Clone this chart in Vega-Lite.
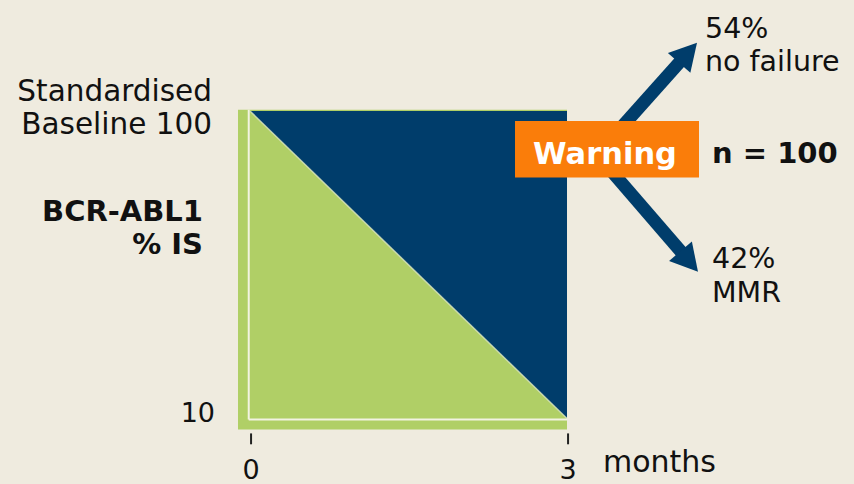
{
  "$schema": "https://vega.github.io/schema/vega-lite/v6.json",
  "width": 854,
  "height": 484,
  "autosize": {"type": "fit", "contains": "padding"},
  "padding": 0,
  "background": "#efebdf",
  "config": {"view": {"stroke": null}, "text": {"font": "DejaVu Sans", "color": "#111111", "baseline": "alphabetic"}},
  "encoding": {
    "x": {"field": "m", "type": "quantitative", "axis": null, "scale": {"domain": [-2.3659, 5.716], "nice": false, "zero": false}},
    "y": {"field": "v", "type": "quantitative", "axis": null, "stack": null, "scale": {"type": "log", "domain": [6.3096, 229.75], "nice": false}}
  },
  "layer": [
    {
      "data": {"values": [{"m": -0.1136, "v": 9.216, "m2": 3, "v2": 101}]},
      "mark": {"type": "rect", "color": "#b0cf66"},
      "encoding": {"x2": {"field": "m2"}, "y2": {"field": "v2"}}
    },
    {
      "data": {"values": [{"m": 0, "v": 100, "v2": 100}, {"m": 3, "v": 10, "v2": 100}]},
      "mark": {"type": "area", "color": "#003d6b", "opacity": 1},
      "encoding": {"y2": {"field": "v2"}}
    },
    {
      "data": {"values": [{"m": 0, "v": 100, "m2": 3, "v2": 10}]},
      "mark": {"type": "rule", "color": "#dfe8c0", "strokeWidth": 1.5, "opacity": 0.8},
      "encoding": {"x2": {"field": "m2"}, "y2": {"field": "v2"}}
    },
    {
      "data": {"values": [{"m": -0.012, "v": 9.93, "v2": 101}]},
      "mark": {"type": "rule", "color": "#f2f3e2", "strokeWidth": 2},
      "encoding": {"y2": {"field": "v2"}}
    },
    {
      "data": {"values": [{"m": -0.012, "v": 9.93, "m2": 3}]},
      "mark": {"type": "rule", "color": "#f2f3e2", "strokeWidth": 2},
      "encoding": {"x2": {"field": "m2"}}
    },
    {
      "data": {"values": [{"m": 0.01, "v": 8.944, "v2": 8.244}, {"m": 3.01, "v": 8.944, "v2": 8.244}]},
      "mark": {"type": "rule", "color": "#222222", "strokeWidth": 2},
      "encoding": {"y2": {"field": "v2"}}
    },
    {
      "data": {"values": [
        {"arrow": "up", "m": 3.2082, "v": 67.46, "m2": 4.0883, "v2": 147.17},
        {"arrow": "down", "m": 3.3596, "v": 67.46, "m2": 4.0978, "v2": 34.31}
      ]},
      "mark": {"type": "rule", "color": "#003d6b", "strokeWidth": 13},
      "encoding": {"x2": {"field": "m2"}, "y2": {"field": "v2"}}
    },
    {
      "data": {"values": [{"arrow": "up", "m": 4.2303, "v": 166.96}]},
      "mark": {"type": "point", "shape": "M0,0L-1,1.8L1,1.8Z", "size": 900, "angle": 41.5, "filled": true, "opacity": 1, "color": "#003d6b", "strokeWidth": 0}
    },
    {
      "data": {"values": [{"arrow": "down", "m": 4.2397, "v": 30.02}]},
      "mark": {"type": "point", "shape": "M0,0L-1,1.8L1,1.8Z", "size": 900, "angle": 139.5, "filled": true, "opacity": 1, "color": "#003d6b", "strokeWidth": 0}
    },
    {
      "data": {"values": [{"m": 2.5079, "v": 60.79, "m2": 4.2492, "v2": 92.84}]},
      "mark": {"type": "rect", "color": "#fa7d0a"},
      "encoding": {"x2": {"field": "m2"}, "y2": {"field": "v2"}}
    },
    {
      "data": {"values": [
        {"m": -0.3596, "v": 107.71, "label": "Standardised"},
        {"m": -0.3596, "v": 84.30, "label": "Baseline 100"}
      ]},
      "mark": {"type": "text", "align": "right", "fontSize": 29.5},
      "encoding": {"text": {"field": "label"}}
    },
    {
      "data": {"values": [{"m": -0.3312, "v": 9.707, "label": "10"}]},
      "mark": {"type": "text", "align": "right", "fontSize": 27},
      "encoding": {"text": {"field": "label"}}
    },
    {
      "data": {"values": [
        {"m": -0.4448, "v": 43.85, "label": "BCR-ABL1"},
        {"m": -0.4448, "v": 34.31, "label": "% IS"}
      ]},
      "mark": {"type": "text", "align": "right", "fontSize": 29, "fontWeight": "bold"},
      "encoding": {"text": {"field": "label"}}
    },
    {
      "data": {"values": [
        {"m": 0.01, "v": 6.357, "label": "0"},
        {"m": 3.01, "v": 6.357, "label": "3"}
      ]},
      "mark": {"type": "text", "align": "center", "fontSize": 27},
      "encoding": {"text": {"field": "label"}}
    },
    {
      "data": {"values": [{"m": 3.3407, "v": 6.697, "label": "months"}]},
      "mark": {"type": "text", "align": "left", "fontSize": 30},
      "encoding": {"text": {"field": "label"}}
    },
    {
      "data": {"values": [
        {"m": 4.306, "v": 173.25, "label": "54%"},
        {"m": 4.306, "v": 134.6, "label": "no failure"},
        {"m": 4.3722, "v": 30.93, "label": "42%"},
        {"m": 4.3722, "v": 23.85, "label": "MMR"}
      ]},
      "mark": {"type": "text", "align": "left", "fontSize": 28.5},
      "encoding": {"text": {"field": "label"}}
    },
    {
      "data": {"values": [{"m": 3.3596, "v": 67.46, "label": "Warning"}]},
      "mark": {"type": "text", "align": "center", "fontSize": 30.5, "fontWeight": "bold", "color": "#ffffff"},
      "encoding": {"text": {"field": "label"}}
    },
    {
      "data": {"values": [{"m": 4.3722, "v": 67.96, "label": "n = 100"}]},
      "mark": {"type": "text", "align": "left", "fontSize": 29, "fontWeight": "bold"},
      "encoding": {"text": {"field": "label"}}
    }
  ]
}
